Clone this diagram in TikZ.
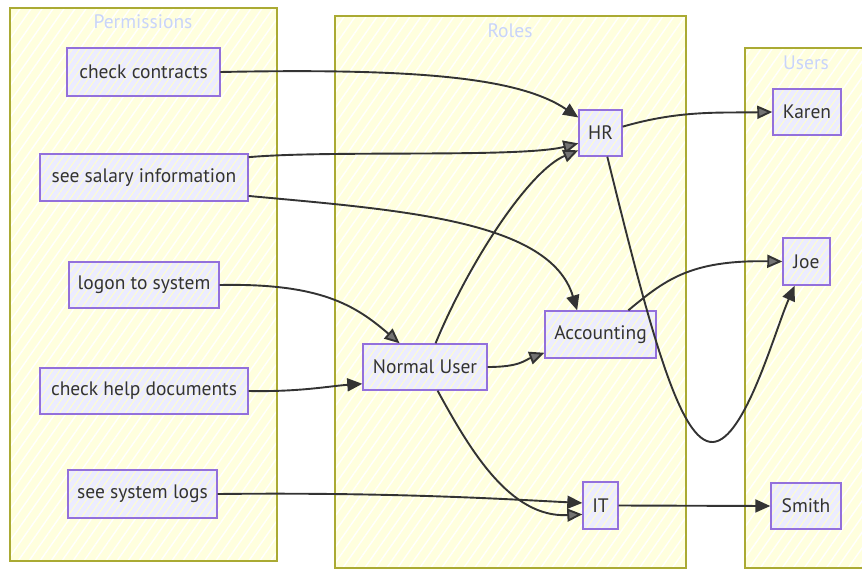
\documentclass[tikz,border=0pt]{standalone}
\usepackage{fontspec}
\setmainfont{PT Sans}
\usetikzlibrary{arrows.meta,patterns.meta}
\definecolor{clfill}{HTML}{FFFFDE}
\definecolor{clline}{HTML}{AAAA33}
\definecolor{ndfill}{HTML}{ECECFF}
\definecolor{ndline}{HTML}{9370DB}
\definecolor{ink}{HTML}{333333}
\definecolor{ttl}{RGB}{200,212,250}
\tikzset{
  cluster/.style={draw=clline,line width=1.2pt,preaction={fill=clfill},
    pattern={Lines[angle=55,distance=9pt,line width=1.4pt]},pattern color=white},
  box/.style={draw=ndline,line width=1.4pt,preaction={fill=ndfill},
    pattern={Lines[angle=55,distance=6pt,line width=0.9pt]},pattern color=white!80!yellow,
    text=ink,font=\fontsize{19.5}{22}\selectfont,inner sep=0pt,anchor=center},
  title/.style={text=ttl,font=\fontsize{19.5}{22}\selectfont},
  edge/.style={draw=ink,line width=1.9pt},
  solidtip/.style={-{Triangle[length=15pt,width=13pt]}},
  hatchtip/.style={-{Triangle[length=15pt,width=13pt,fill=black!55]}}
}
\begin{document}
\begin{tikzpicture}[x=1pt,y=-1pt]
\useasboundingbox (0,0) rectangle (862,571);
% clusters
\path[cluster] (10,8) rectangle (277,561);
\path[cluster] (335,16) rectangle (686,568);
\path[cluster] (745,48) rectangle (875,568);
\node[title] (tperm) at (143,22) {Permissions};
\node[title] (troles) at (510,31) {Roles};
\node[title] (tusers) at (806,63) {Users};
% nodes
\node[box,minimum width=153pt,minimum height=48pt] (cc) at (143.5,72) {check contracts};
\node[box,minimum width=208pt,minimum height=47pt] (sal) at (144,177.5) {see salary information};
\node[box,minimum width=150pt,minimum height=46pt] (logon) at (144,285) {logon to system};
\node[box,minimum width=208pt,minimum height=46pt] (help) at (144,391) {check help documents};
\node[box,minimum width=149pt,minimum height=48pt] (logs) at (142.5,494) {see system logs};
\node[box,minimum width=43pt,minimum height=46pt] (hr) at (600.5,133) {HR};
\node[box,minimum width=124pt,minimum height=46pt] (nu) at (425,367) {Normal User};
\node[box,minimum width=111pt,minimum height=47pt] (acc) at (600.5,334.5) {Accounting};
\node[box,minimum width=35pt,minimum height=47pt] (it) at (600.5,505.5) {IT};
\node[box,minimum width=68pt,minimum height=46pt] (karen) at (807,112) {Karen};
\node[box,minimum width=47pt,minimum height=47pt] (joe) at (806.5,261.5) {Joe};
\node[box,minimum width=70pt,minimum height=46pt] (smith) at (806,506) {Smith};
\coordinate (dip) at (713,442);
% edges
\draw[edge,solidtip] (cc.east) .. controls (420,68) and (520,78) .. (hr.145);
\draw[edge,hatchtip] (sal.11) .. controls (330,150) and (520,158) .. (hr.205);
\draw[edge,solidtip] (sal.-10) .. controls (400,210) and (550,220) .. (acc.134);
\draw[edge,hatchtip] (logon.east) .. controls (320,283) and (355,305) .. (nu.137);
\draw[edge,solidtip] (help.east) .. controls (300,392) and (330,386) .. (nu.195);
\draw[edge,hatchtip] (nu.66) .. controls (470,260) and (530,170) .. (hr.218);
\draw[edge,hatchtip] (nu.east) .. controls (520,367) and (525,360) .. (acc.198);
\draw[edge,hatchtip] (nu.-62) .. controls (470,450) and (510,518) .. (it.206);
\draw[edge,solidtip] (logs.east) .. controls (400,492) and (520,500) .. (it.172);
\draw[edge,hatchtip] (hr.16) .. controls (680,110) and (720,113) .. (karen.west);
\draw[edge,solidtip] (hr.-74) .. controls (650,330) and (680,444) .. (dip) .. controls (745,440) and (775,330) .. (joe.244);
\draw[edge,hatchtip] (acc.41) .. controls (665,280) and (690,260) .. (joe.west);
\draw[edge,solidtip] (it.east) -- (smith.west);
\end{tikzpicture}
\end{document}
